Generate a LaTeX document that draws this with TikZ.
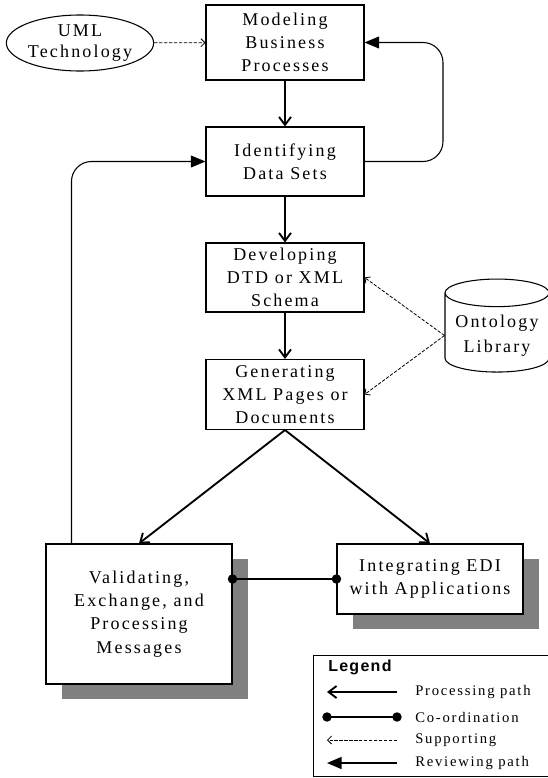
\documentclass[tikz,border=0pt]{standalone}
\usepackage{fontspec}
\setmainfont{Liberation Serif}[LetterSpace=12]
\newfontfamily\legendfont{Liberation Sans}[LetterSpace=8]
\usetikzlibrary{arrows.meta,shapes.geometric,shadows}

\tikzset{
  box/.style={draw, line width=0.8pt, fill=white, align=center,
    minimum width=118.5pt, inner sep=1pt,
    font=\fontsize{13.5}{17.5}\selectfont},
  shadowbox/.style={box, drop shadow={shadow xshift=12pt, shadow yshift=-11pt,
    fill=black!50, opacity=1}},
  process/.style={line width=1.4pt, -{Straight Barb[length=6pt,width=9pt,line width=1.4pt]}},
  review/.style={line width=0.8pt, rounded corners=15pt, -{Triangle[length=11pt,width=9pt]}},
  support/.style={line width=0.6pt, dashed, dash pattern=on 2.5pt off 1.2pt,
    -{Straight Barb[length=3pt,width=6pt,line width=0.6pt]}},
  coordline/.style={line width=1.4pt, {Circle[length=7pt]}-{Circle[length=7pt]},
    shorten <=-3.5pt, shorten >=-3.5pt},
  legendtext/.style={anchor=west, inner sep=0pt, font=\fontsize{11}{13}\selectfont}
}

\begin{document}
\begin{tikzpicture}[x=0.75pt, y=-0.75pt]
  \useasboundingbox (0,0) rectangle (547,778);

  % main chain
  \node[box, minimum height=56.25pt] (model) at (285,42.5) {Modeling\\Business\\Processes};
  \node[box, minimum height=51.75pt] (ident) at (285,161.5) {Identifying\\Data Sets};
  \node[box, minimum height=51.75pt] (dtd) at (285,277.5) {Developing\\DTD or XML\\Schema};
  \node[box, minimum height=52.5pt] (gen) at (285,394.5) {Generating\\XML Pages or\\Documents};
  \node[shadowbox, minimum width=139.5pt, minimum height=105pt] (valid) at (139,614)
    {Validating,\\Exchange, and\\Processing\\Messages};
  \node[shadowbox, minimum width=139.5pt, minimum height=52.5pt] (integ) at (430,579)
    {Integrating EDI\\with Applications};

  % supporting sources
  \node[ellipse, draw, line width=0.8pt, inner sep=0pt, minimum width=108.75pt,
    minimum height=42pt, align=center, font=\fontsize{13.5}{16}\selectfont]
    (uml) at (80,43) {UML\\Technology};
  \node[cylinder, shape border rotate=90, aspect=0.3, draw, line width=0.8pt,
    minimum width=78pt, minimum height=69.75pt, align=center,
    font=\fontsize{13.5}{18.5}\selectfont] (onto) at (497,335.5) {Ontology\\Library};

  % connectors
  \draw[process] (model) -- (ident);
  \draw[process] (ident) -- (dtd);
  \draw[process] (dtd) -- (gen);
  \draw[process] (gen.south) -- (valid.north);
  \draw[process] (gen.south) -- (integ.north);
  \draw[coordline] (valid.east |- integ.west) -- (integ.west);
  \draw[support] (uml) -- (model);
  \draw[support] (onto.west) -- (dtd.east);
  \draw[support] (onto.west) -- (gen.east);
  \draw[review] (ident.east) -| (443,100) |- (model.east);
  \draw[review] (valid.north west) ++(26,0) |- (ident.west);

  % legend
  \node[draw, line width=0.8pt, anchor=north west, minimum width=190pt,
    minimum height=90.75pt] (legend) at (313,655) {};
  \node[anchor=west, inner sep=0pt, font=\legendfont\bfseries\fontsize{12}{14}\selectfont]
    (legtitle) at (328,667) {Legend};
  \foreach \y/\name in {692/a, 717/b, 740/c, 763/d} {
    \coordinate (l\name) at (327,\y);
    \coordinate (r\name) at (397,\y);
  }
  \draw[process, line width=1.2pt] (ra) -- (la);
  \draw[coordline, line width=1.2pt] (lb) -- (rb);
  \draw[support] (rc) -- (lc);
  \draw[review, line width=1.2pt] (rd) -- (ld);
  \node[legendtext] (ta) at (415,692) {Processing path};
  \node[legendtext] (tb) at (415,717) {Co-ordination};
  \node[legendtext] (tc) at (415,740) {Supporting};
  \node[legendtext] (td) at (415,763) {Reviewing path};
\end{tikzpicture}
\end{document}
